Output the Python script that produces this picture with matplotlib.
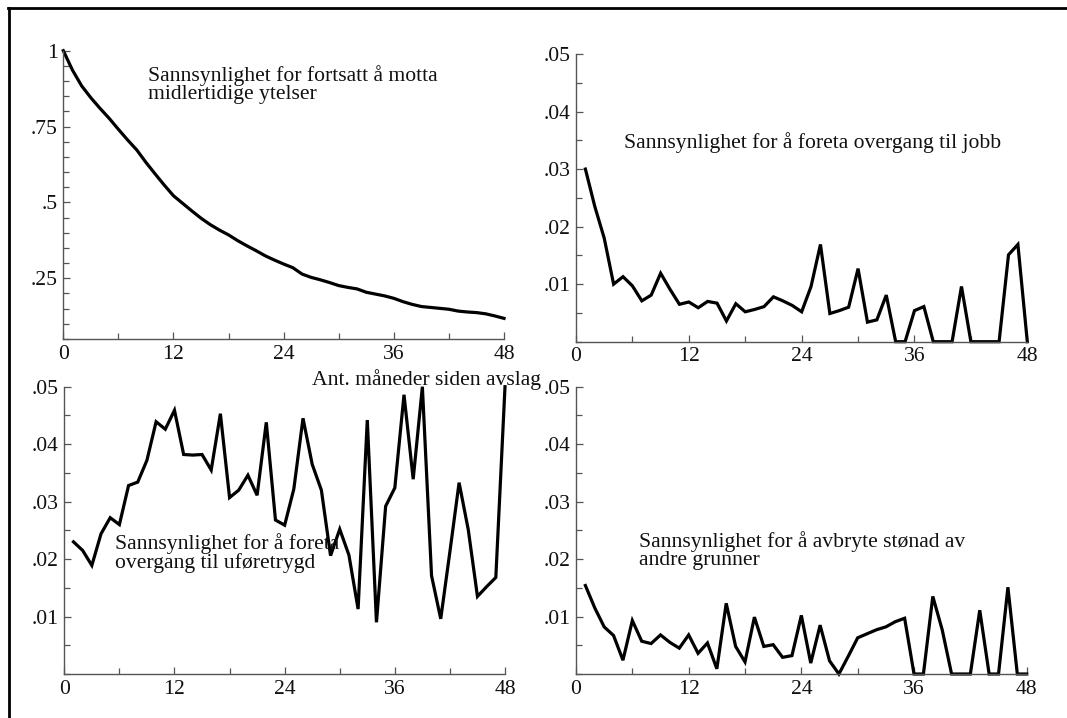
import numpy as np
import matplotlib
matplotlib.use("Agg")
import matplotlib.pyplot as plt
from matplotlib.lines import Line2D
from matplotlib.ticker import MultipleLocator

plt.rcParams["font.family"] = ["Liberation Serif", "DejaVu Serif"]

# months since rejection
months_tl = list(range(0, 49))
months = list(range(1, 49))

# probability of still receiving temporary benefits
p_cont = [1.000, 0.936, 0.884, 0.845, 0.810, 0.777, 0.741, 0.706, 0.673, 0.632,
          0.594, 0.557, 0.522, 0.497, 0.472, 0.448, 0.427, 0.409, 0.393, 0.374,
          0.357, 0.341, 0.324, 0.310, 0.297, 0.285, 0.264, 0.253, 0.245, 0.236,
          0.226, 0.220, 0.215, 0.204, 0.198, 0.192, 0.184, 0.173, 0.164, 0.157,
          0.154, 0.151, 0.148, 0.142, 0.139, 0.137, 0.133, 0.126, 0.118]

# transition to job
p_job = [0.0300, 0.0235, 0.0180, 0.0100, 0.0113, 0.0097, 0.0071, 0.0081, 0.0119, 0.0091,
         0.0065, 0.0069, 0.0059, 0.0070, 0.0067, 0.0036, 0.0066, 0.0052, 0.0056, 0.0061,
         0.0078, 0.0071, 0.0063, 0.0052, 0.0096, 0.0169, 0.0049, 0.0054, 0.0060, 0.0127,
         0.0034, 0.0038, 0.0081, 0.0, 0.0, 0.0054, 0.0061, 0.0, 0.0, 0.0,
         0.0096, 0.0, 0.0, 0.0, 0.0, 0.0151, 0.0169, 0.0]

# transition to disability pension
p_dis = [0.0230, 0.0215, 0.0189, 0.0244, 0.0272, 0.0260, 0.0328, 0.0334, 0.0372, 0.0439,
         0.0426, 0.0459, 0.0382, 0.0381, 0.0382, 0.0355, 0.0453, 0.0307, 0.0320, 0.0346,
         0.0311, 0.0438, 0.0268, 0.0259, 0.0322, 0.0445, 0.0365, 0.0320, 0.0206, 0.0252,
         0.0207, 0.0113, 0.0442, 0.0090, 0.0292, 0.0324, 0.0486, 0.0339, 0.0500, 0.0171,
         0.0096, 0.0213, 0.0333, 0.0251, 0.0135, 0.0152, 0.0168, 0.0500]

# other reasons
p_oth = [0.0154, 0.0115, 0.0082, 0.0067, 0.0024, 0.0093, 0.0057, 0.0053, 0.0068, 0.0055,
         0.0045, 0.0068, 0.0036, 0.0054, 0.0009, 0.0123, 0.0048, 0.0021, 0.0099, 0.0048,
         0.0051, 0.0029, 0.0032, 0.0102, 0.0019, 0.0085, 0.0023, 0.0, 0.0031, 0.0063,
         0.0070, 0.0077, 0.0082, 0.0091, 0.0097, 0.0, 0.0, 0.0135, 0.0077, 0.0,
         0.0, 0.0, 0.0111, 0.0, 0.0, 0.0151, 0.0, 0.0]

xticks = [0, 12, 24, 36, 48]
yt_big = [1, 0.75, 0.5, 0.25]
yl_big = ["1", ".75", ".5", ".25"]
yt_small = [0.05, 0.04, 0.03, 0.02, 0.01]
yl_small = [".05", ".04", ".03", ".02", ".01"]

FS = 15.6
W, H = 1067, 718
fig = plt.figure(figsize=(W / 100, H / 100), dpi=100)


def px_axes(l, t, r, b):
    return fig.add_axes([l / W, 1 - b / H, (r - l) / W, (b - t) / H])


def style(ax, yt, yl, ylim, ymin_step):
    ax.set_xlim(0, 48)
    ax.set_ylim(*ylim)
    ax.set_xticks(xticks)
    ax.set_xticklabels([str(t) for t in xticks])
    ax.xaxis.set_minor_locator(MultipleLocator(6))
    ax.set_yticks(yt)
    ax.set_yticklabels(yl)
    ax.yaxis.set_minor_locator(MultipleLocator(ymin_step))
    for sp in ["top", "right"]:
        ax.spines[sp].set_visible(False)
    for sp in ["left", "bottom"]:
        ax.spines[sp].set_color("#555555")
        ax.spines[sp].set_linewidth(1.0)
    ax.tick_params(which="major", direction="in", length=5, width=0.9,
                   color="#555555", labelsize=FS, labelcolor="#111111", pad=4)
    ax.tick_params(which="minor", direction="in", length=4, width=0.9,
                   color="#555555")
    ax.patch.set_alpha(0)


lkw = dict(color="black", lw=2.3, clip_on=False, solid_joinstyle="miter")
# y of each note is the baseline of its last line
tkw = dict(fontsize=FS, color="#111111", va="baseline", linespacing=0.9)

ax1 = px_axes(63.3, 50.7, 504, 339.3)
ax1.plot(months_tl, p_cont, **lkw)
style(ax1, yt_big, yl_big, (0.049, 1.0), 0.05)
ax1.text(9.25, 0.841, "Sannsynlighet for fortsatt å motta\nmidlertidige ytelser", **tkw)

ax2 = px_axes(576, 54, 1027.3, 341.7)
ax2.plot(months, p_job, **lkw)
style(ax2, yt_small, yl_small, (0, 0.05), 0.005)
ax2.text(5.1, 0.0336, "Sannsynlighet for å foreta overgang til jobb", **tkw)

ax3 = px_axes(64.3, 386.7, 505, 674)
ax3.plot(months, p_dis, **lkw)
style(ax3, yt_small, yl_small, (0, 0.05), 0.005)
ax3.text(5.5, 0.0185, "Sannsynlighet for å foreta\novergang til uføretrygd", **tkw)

ax4 = px_axes(576, 386.7, 1026.7, 674)
ax4.plot(months, p_oth, **lkw)
style(ax4, yt_small, yl_small, (0, 0.05), 0.005)
ax4.text(6.7, 0.0190, "Sannsynlighet for å avbryte stønad av\nandre grunner", **tkw)

fig.text(541 / W, 1 - 385 / H, "Ant. måneder siden avslag", ha="right",
         va="baseline", fontsize=FS, color="#111111")

# outer frame (top and left edges only)
fig.add_artist(Line2D([8 / W, 1], [1 - 7.5 / H, 1 - 7.5 / H], color="black", lw=2))
fig.add_artist(Line2D([8.5 / W, 8.5 / W], [0, 1 - 7.5 / H], color="black", lw=2))

fig.savefig("out.png", dpi=100)
